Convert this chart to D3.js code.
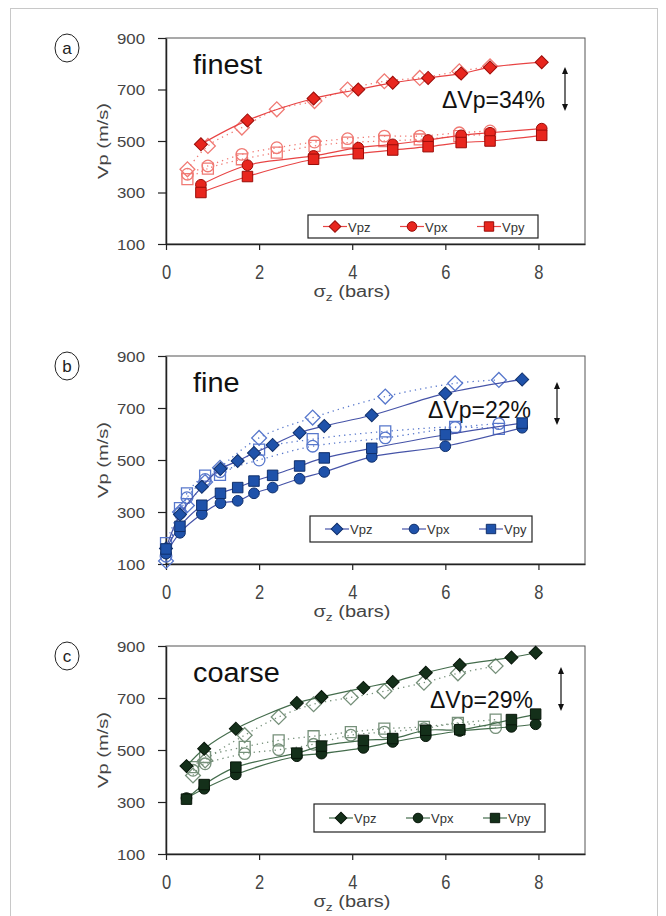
<!DOCTYPE html>
<html>
<head>
<meta charset="utf-8">
<script src="https://cdn.jsdelivr.net/npm/d3@7"></script>
<style>
  html, body { margin: 0; padding: 0; background: #fff; }
  svg { display: block; font-family: "Liberation Sans", Arial, sans-serif; }
</style>
</head>
<body>
<svg id="chart" width="666" height="916"></svg>
<script>
// Shared axis ticks
const xTicks = [0, 2, 4, 6, 8];
const yTicks = [100, 300, 500, 700, 900];
const seriesNames = ['Vpz', 'Vpx', 'Vpy'];

// (a) finest
const aFilledX = [0.75, 1.75, 3.17, 4.13, 4.87, 5.63, 6.34, 6.96, 8.07];
const aVpz = [487, 580, 665, 700, 726, 745, 762, 786, 806];
const aVpx = [330, 406, 442, 474, 487, 504, 522, 532, 548];
const aVpy = [300, 362, 429, 451, 465, 478, 494, 500, 522];
const aOpenX = [0.46, 0.9, 1.63, 2.38, 3.19, 3.9, 4.69, 5.45, 6.3, 6.96];
const aVpzOpen = [390, 481, 552, 623, 655, 700, 732, 745, 771, 790];
const aVpxOpen = [371, 403, 448, 474, 496, 509, 519, 519, 532, 539];
const aVpyOpen = [352, 393, 429, 455, 481, 494, 500, 506, 519, 526];

// (b) fine
const bFilledX = [0, 0.3, 0.77, 1.17, 1.54, 1.89, 2.29, 2.87, 3.4, 4.42, 6.0, 7.65];
const bVpz = [160, 290, 397, 466, 496, 527, 558, 605, 631, 672, 756, 810];
const bVpx = [140, 220, 292, 334, 343, 372, 394, 428, 454, 512, 553, 624];
const bVpy = [158, 245, 326, 372, 394, 419, 441, 477, 508, 545, 597, 642];
const bOpenX = [0, 0.3, 0.45, 0.84, 1.16, 2.0, 3.15, 4.71, 6.21, 7.15];
const bVpzOpen = [112, 300, 325, 415, 470, 585, 663, 744, 795, 808];
const bVpxOpen = [130, 295, 355, 425, 455, 500, 553, 585, 625, 640];
const bVpyOpen = [180, 315, 372, 440, 443, 540, 580, 610, 627, 620];

// (c) coarse
const cFilledX = [0.44, 0.82, 1.5, 2.81, 3.34, 4.24, 4.87, 5.58, 6.31, 7.42, 7.94];
const cVpz = [438, 505, 582, 681, 704, 739, 762, 797, 827, 856, 874];
const cVpx = [315, 351, 406, 476, 486, 508, 531, 553, 573, 589, 599];
const cVpy = [311, 367, 434, 488, 515, 537, 544, 576, 578, 617, 638];
const cOpenX = [0.58, 0.84, 1.69, 2.42, 3.17, 3.97, 4.69, 5.54, 6.27, 7.08];
const cVpzOpen = [402, 460, 557, 627, 676, 702, 726, 759, 795, 823];
const cVpxOpen = [422, 447, 486, 501, 522, 557, 569, 582, 602, 586];
const cVpyOpen = [434, 473, 512, 537, 553, 569, 582, 589, 604, 617];

const panels = [
  { letter: 'a', title: 'finest', delta: '\u0394Vp=34%', top: 38, bottom: 244,
    fill: '#e8261e', edge: '#9a0c08', line: '#e84444', open: '#f07a74',
    filledX: aFilledX, filled: [aVpz, aVpx, aVpy],
    openX: aOpenX, opened: [aVpzOpen, aVpxOpen, aVpyOpen],
    legend: { x: 308, y: 215, w: 230, h: 23 },
    deltaPos: { x: 442, y: 108 }, arrow: { x: 565, y1: 67, y2: 111 } },
  { letter: 'b', title: 'fine', delta: '\u0394Vp=22%', top: 356, bottom: 564,
    fill: '#1f52aa', edge: '#10306c', line: '#4654a8', open: '#5878cc',
    filledX: bFilledX, filled: [bVpz, bVpx, bVpy],
    openX: bOpenX, opened: [bVpzOpen, bVpxOpen, bVpyOpen],
    legend: { x: 310, y: 516, w: 222, h: 26 },
    deltaPos: { x: 428, y: 418 }, arrow: { x: 557, y1: 382, y2: 425 } },
  { letter: 'c', title: 'coarse', delta: '\u0394Vp=29%', top: 646, bottom: 854,
    fill: '#14301a', edge: '#08160a', line: '#446c4c', open: '#76907a',
    filledX: cFilledX, filled: [cVpz, cVpx, cVpy],
    openX: cOpenX, opened: [cVpzOpen, cVpxOpen, cVpyOpen],
    legend: { x: 314, y: 804, w: 231, h: 28 },
    deltaPos: { x: 430, y: 708 }, arrow: { x: 561, y1: 667, y2: 711 } },
];

const svg = d3.select('#chart');
const left = 166, right = 585;

// outer frame
svg.append('rect').attr('x', 10.5).attr('y', 8.5).attr('width', 647).attr('height', 930)
  .attr('fill', 'none').attr('stroke', '#c8c8c8').attr('stroke-width', 1);

// diamond = square turned 45 degrees
const symbols = [d3.symbolSquare, d3.symbolCircle, d3.symbolSquare];
const turns = [45, 0, 0];
const filledSizes = [85, 90, 110];
const openSizes = [110, 105, 120];
const marker = (i, s) => d3.symbol().type(symbols[i]).size(s);

panels.forEach(p => {
  const x = d3.scaleLinear().domain([0, 9]).range([left, right]);
  const y = d3.scaleLinear().domain([100, 900]).range([p.bottom, p.top]);
  const g = svg.append('g');

  // plot frame
  g.append('rect').attr('x', left).attr('y', p.top).attr('width', right - left).attr('height', p.bottom - p.top)
    .attr('fill', 'none').attr('stroke', '#555').attr('stroke-width', 1);

  // axes
  const xAxis = g.append('g').attr('transform', `translate(0,${p.bottom})`)
    .call(d3.axisBottom(x).tickValues(xTicks).tickSize(6).tickSizeOuter(0));
  const yAxis = g.append('g').attr('transform', `translate(${left},0)`)
    .call(d3.axisLeft(y).tickValues(yTicks).tickSize(8).tickSizeOuter(0));
  [xAxis, yAxis].forEach(a => {
    a.select('.domain').attr('stroke', '#222').attr('stroke-width', 1.5);
    a.selectAll('.tick line').attr('stroke', '#222').attr('stroke-width', 1.2);
    a.selectAll('.tick text').attr('fill', '#444')
      .attr('font-family', '"Liberation Sans", Arial, sans-serif');
  });
  xAxis.selectAll('.tick text').attr('font-size', '14px').attr('y', 0).attr('dy', 0)
    .attr('transform', 'translate(0,35) scale(1.18,1.4)');
  yAxis.selectAll('.tick text').attr('font-size', '14px').attr('x', 0).attr('dy', 0)
    .attr('transform', 'translate(-21,5) scale(1.2,1)');

  // axis titles
  g.append('text')
    .attr('transform', `translate(108,${(p.top + p.bottom) / 2}) rotate(-90)`)
    .attr('text-anchor', 'middle').attr('font-size', '15px').attr('fill', '#444')
    .attr('textLength', 76).attr('lengthAdjust', 'spacingAndGlyphs')
    .text('Vp (m/s)');
  const xt = g.append('text').attr('transform', `translate(352,${p.bottom + 53}) scale(1.25,1)`)
    .attr('text-anchor', 'middle').attr('font-size', '16px').attr('fill', '#444');
  xt.append('tspan').text('\u03c3');
  xt.append('tspan').attr('font-size', '11px').attr('dy', 4).text('z');
  xt.append('tspan').attr('dy', -4).text(' (bars)');

  // panel letter
  g.append('ellipse').attr('cx', 67).attr('cy', p.top + 10).attr('rx', 12).attr('ry', 14)
    .attr('fill', '#fff').attr('stroke', '#222').attr('stroke-width', 1);
  g.append('text').attr('x', 67).attr('y', p.top + 16).attr('text-anchor', 'middle')
    .attr('font-size', '17px').attr('fill', '#222').text(p.letter);

  // panel title and delta annotation
  g.append('text').attr('transform', `translate(193,${p.top + 36}) scale(1.07,1)`)
    .attr('font-size', '27px').attr('fill', '#111').text(p.title);
  g.append('text').attr('x', p.deltaPos.x).attr('y', p.deltaPos.y).attr('font-size', '23px')
    .attr('fill', '#111').text(p.delta);
  g.append('line').attr('x1', p.arrow.x).attr('x2', p.arrow.x)
    .attr('y1', p.arrow.y1 + 4).attr('y2', p.arrow.y2 - 4).attr('stroke', '#111').attr('stroke-width', 1.2);
  [[p.arrow.y1, 1], [p.arrow.y2, -1]].forEach(([yy, dir]) => {
    g.append('path')
      .attr('d', `M${p.arrow.x},${yy} L${p.arrow.x - 3},${yy + dir * 7} L${p.arrow.x + 3},${yy + dir * 7} Z`)
      .attr('fill', '#111');
  });

  const curve = d3.line().x(d => x(d[0])).y(d => y(d[1])).curve(d3.curveCatmullRom.alpha(0.5));

  // open (dotted) series
  p.opened.forEach(vals => {
    const pts = p.openX.map((xv, k) => [xv, vals[k]]);
    g.append('path').datum(pts).attr('d', curve).attr('fill', 'none')
      .attr('stroke', p.open).attr('stroke-width', 1.3).attr('stroke-dasharray', '1.3 4');
  });
  p.opened.forEach((vals, i) => {
    g.selectAll(null).data(p.openX.map((xv, k) => [xv, vals[k]])).join('path')
      .attr('transform', d => `translate(${x(d[0])},${y(d[1])}) rotate(${turns[i]})`)
      .attr('d', marker(i, openSizes[i])).attr('fill', 'none').attr('stroke', p.open).attr('stroke-width', 1.3);
  });

  // filled (solid) series
  p.filled.forEach(vals => {
    const pts = p.filledX.map((xv, k) => [xv, vals[k]]);
    g.append('path').datum(pts).attr('d', curve).attr('fill', 'none')
      .attr('stroke', p.line).attr('stroke-width', 1.2);
  });
  p.filled.forEach((vals, i) => {
    g.selectAll(null).data(p.filledX.map((xv, k) => [xv, vals[k]])).join('path')
      .attr('transform', d => `translate(${x(d[0])},${y(d[1])}) rotate(${turns[i]})`)
      .attr('d', marker(i, filledSizes[i])).attr('fill', p.fill).attr('stroke', p.edge).attr('stroke-width', 1);
  });

  // legend
  const L = p.legend;
  const lg = g.append('g').attr('transform', `translate(${L.x},${L.y})`);
  lg.append('rect').attr('width', L.w).attr('height', L.h).attr('fill', '#fff')
    .attr('stroke', '#222').attr('stroke-width', 1.2);
  seriesNames.forEach((name, i) => {
    const cx = 27 + i * 77, cy = L.h / 2;
    lg.append('line').attr('x1', cx - 12).attr('x2', cx + 12).attr('y1', cy).attr('y2', cy)
      .attr('stroke', p.line).attr('stroke-width', 1.2);
    lg.append('path').attr('transform', `translate(${cx},${cy}) rotate(${turns[i]})`)
      .attr('d', marker(i, filledSizes[i] * 0.8))
      .attr('fill', p.fill).attr('stroke', p.edge).attr('stroke-width', 1);
    lg.append('text').attr('x', cx + 13).attr('y', cy + 5).attr('font-size', '13px')
      .attr('fill', '#333').text(name);
  });
});
</script>
</body>
</html>
